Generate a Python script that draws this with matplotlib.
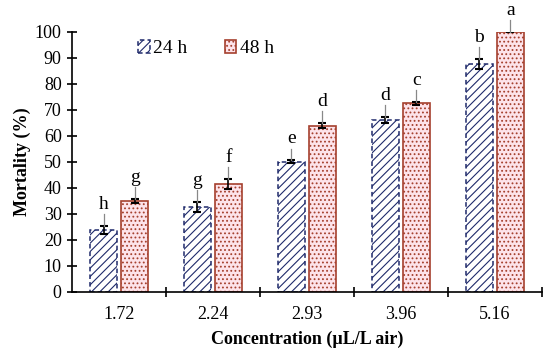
import matplotlib
matplotlib.use("Agg")
import matplotlib.pyplot as plt
import numpy as np

categories = ["1.72", "2.24", "2.93", "3.96", "5.16"]
m24 = [23.8, 32.6, 50.0, 66.2, 87.6]
e24 = [1.5, 2.0, 0.6, 1.2, 2.0]
m48 = [35.1, 41.5, 63.9, 72.6, 100.0]
e48 = [0.8, 2.0, 1.0, 0.6, 0.0]
let24 = ["h", "g", "e", "d", "b"]
let48 = ["g", "f", "d", "c", "a"]

plt.rcParams['font.family'] = ['Liberation Serif', 'DejaVu Serif']
plt.rcParams['hatch.linewidth'] = 0.8

fig = plt.figure(figsize=(5.5, 3.59), dpi=100)
ax = fig.add_axes([0.131, 0.187, 0.854, 0.724])

x = np.arange(len(categories))
w = 0.29
gap = 0.02
x24 = x - w / 2 - gap
x48 = x + w / 2 + gap

ax.bar(x24, m24, w, facecolor='white', edgecolor='#1f2a6b', hatch='////',
       linestyle=(0, (3, 2)), linewidth=1.1, label='24 h', zorder=2)
ax.bar(x48, m48, w, facecolor='#fde3ea', edgecolor='#a5402e', hatch='....',
       linewidth=1.2, label='48 h', zorder=2)
ax.errorbar(x24, m24, yerr=e24, fmt='none', ecolor='black', capsize=3, elinewidth=1.2,
            capthick=1.5, zorder=3)
ax.errorbar(x48, m48, yerr=e48, fmt='none', ecolor='black', capsize=3, elinewidth=1.2,
            capthick=1.5, zorder=3)

for xs, ms, es, ls in [(x24, m24, e24, let24), (x48, m48, e48, let48)]:
    for xi, mi, ei, li in zip(xs, ms, es, ls):
        top = mi + ei
        ax.plot([xi, xi], [top, top + 4.5], color='#888888', lw=0.9, clip_on=False, zorder=3)
        ax.text(xi, top + 5.0, li, ha='center', va='bottom', fontsize=14, clip_on=False)

ax.set_ylim(0, 100)
ax.set_xlim(-0.5, len(categories) - 0.5)
ax.set_yticks(np.arange(0, 101, 10))
ax.set_xticks(x)
ax.set_xticklabels(categories)
ax.set_xticks(np.arange(0.5, len(categories), 1.0), minor=True)
ax.tick_params(axis='x', which='major', length=0, pad=10, labelsize=13)
ax.tick_params(axis='x', which='minor', length=7, direction='inout', width=1.2)
ax.tick_params(axis='y', length=7, direction='inout', width=1.2, labelsize=13, pad=4)
for s in ['top', 'right']:
    ax.spines[s].set_visible(False)
for s in ['left', 'bottom']:
    ax.spines[s].set_linewidth(1.2)

ax.set_ylabel('Mortality (%)', fontsize=13, fontweight='bold', labelpad=3)
ax.set_xlabel('Concentration (µL/L air)', fontsize=13, fontweight='bold', labelpad=6)

ax.legend(loc='upper left', bbox_to_anchor=(0.103, 1.035), ncol=2, frameon=False,
          fontsize=14, handlelength=0.6, handleheight=0.6, handletextpad=0.2,
          columnspacing=1.9)

fig.savefig('out.png', dpi=100)
